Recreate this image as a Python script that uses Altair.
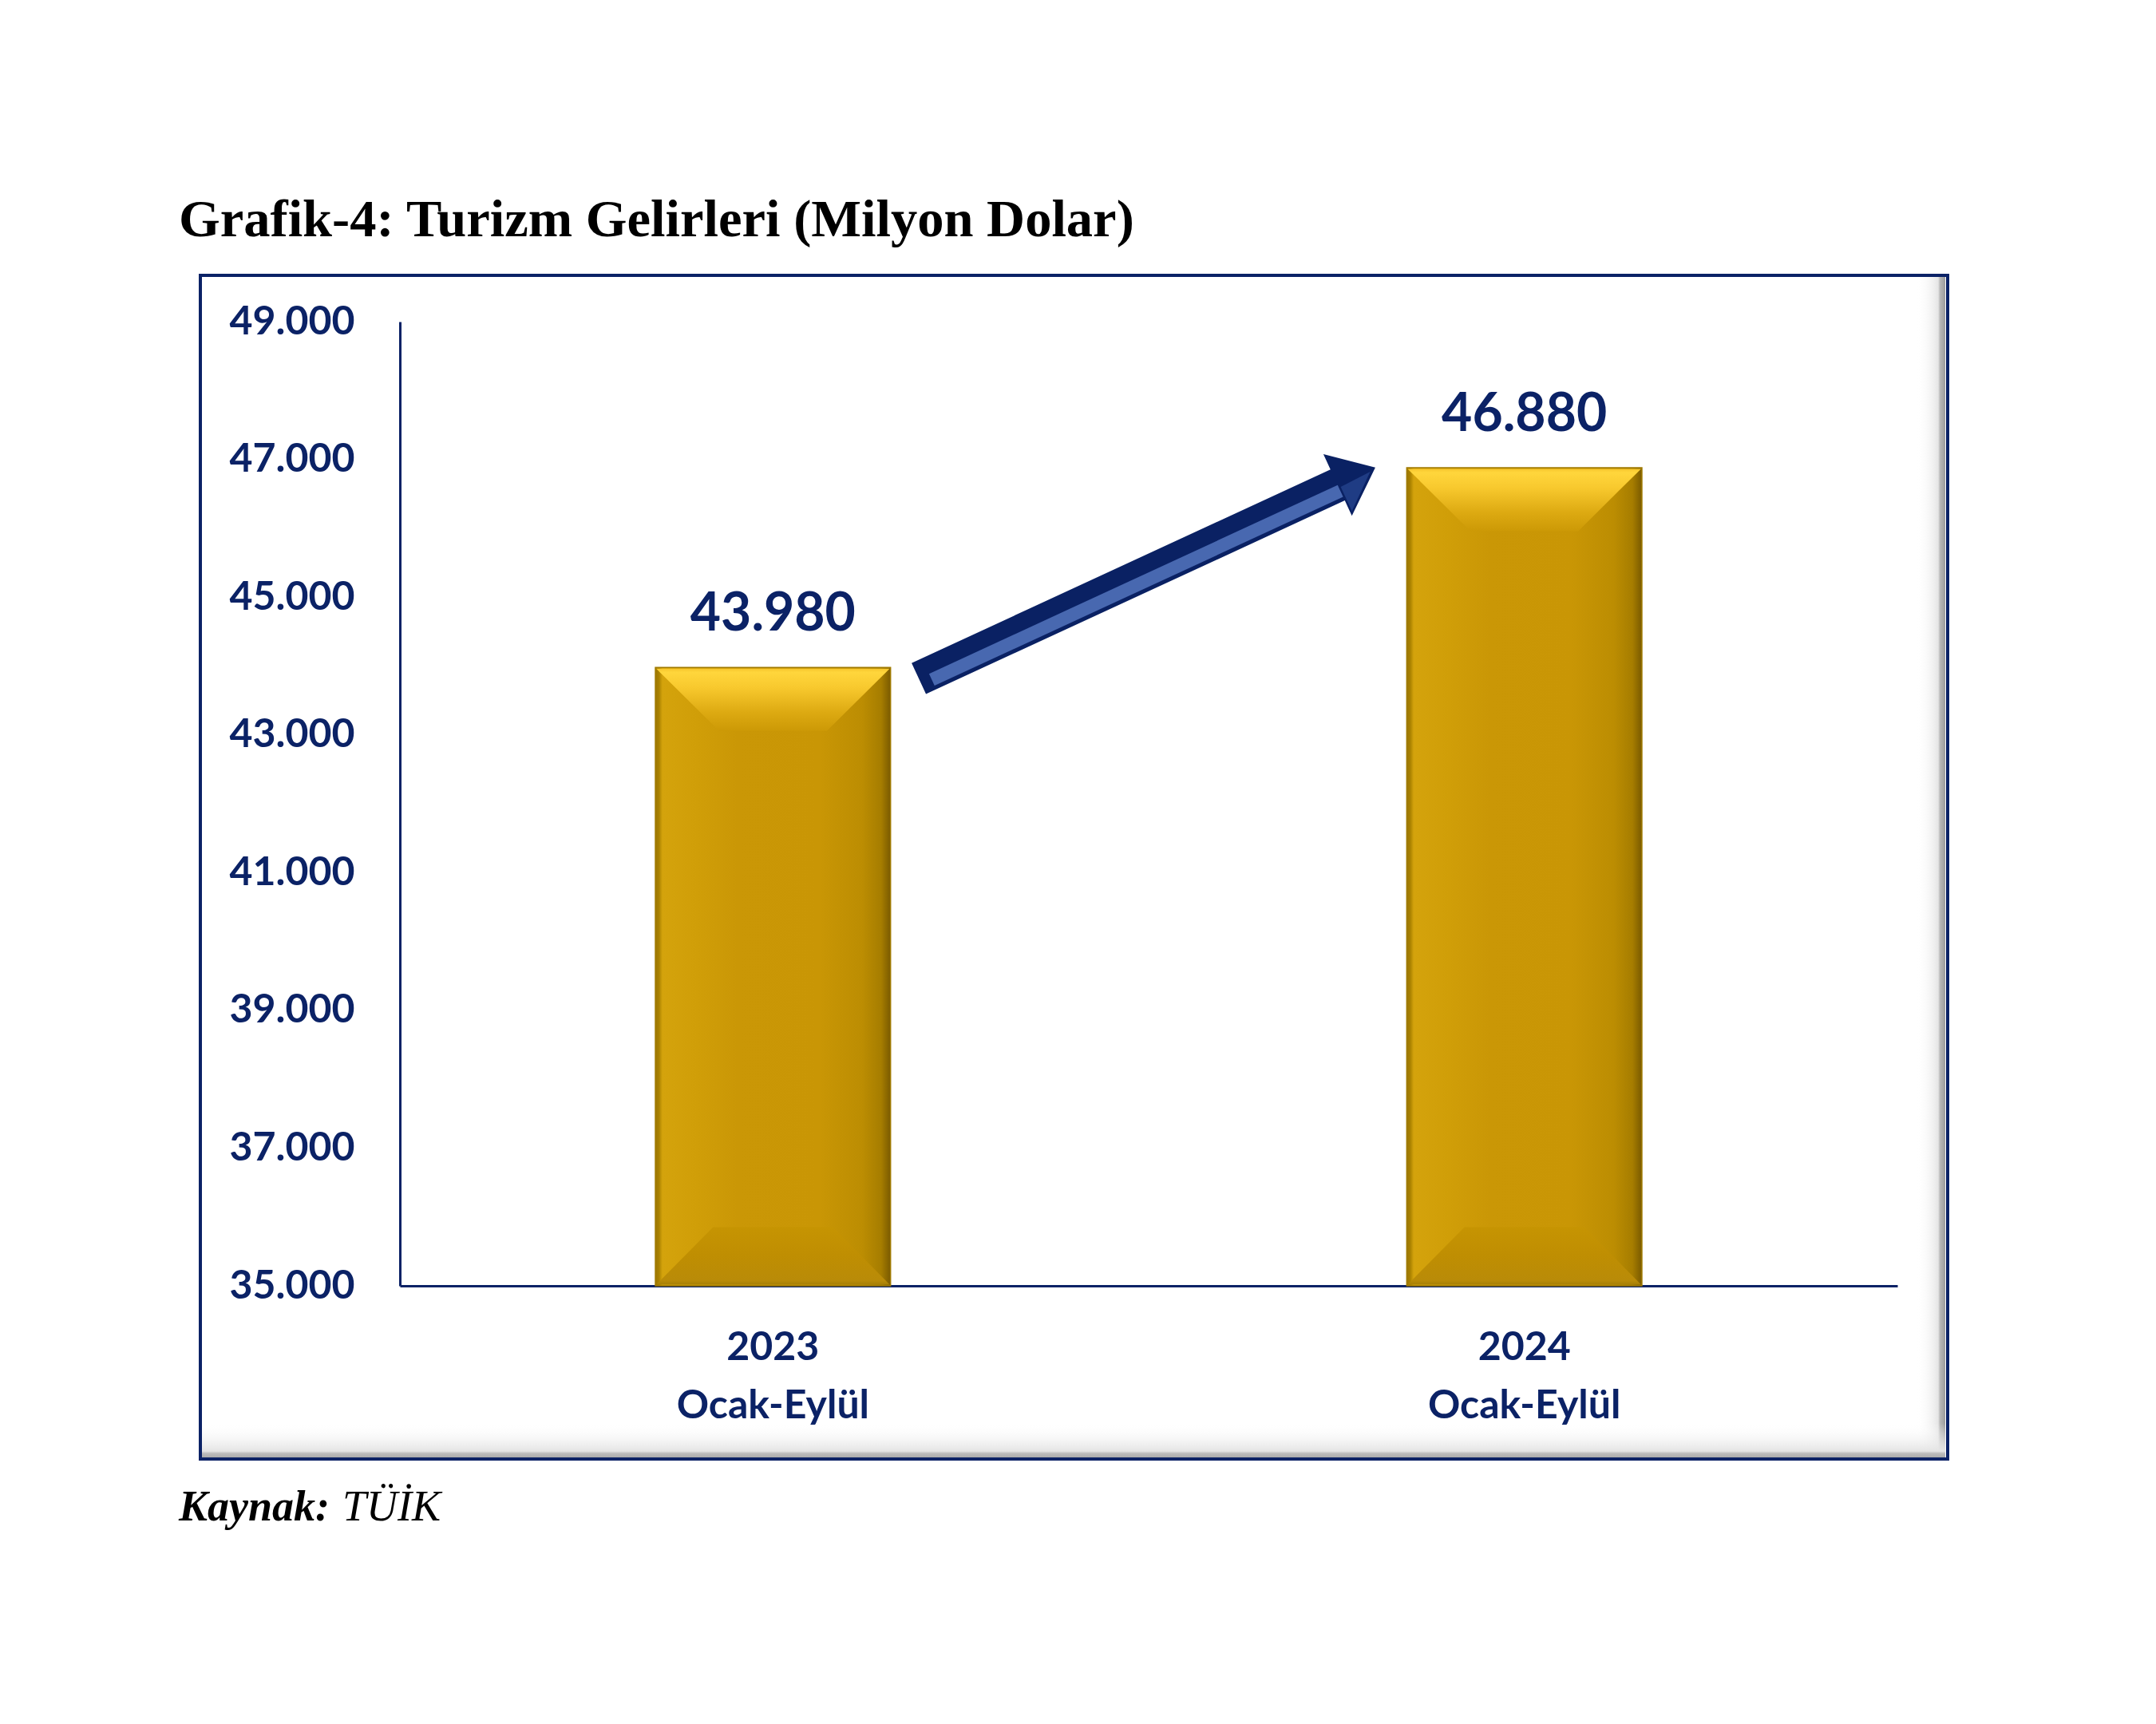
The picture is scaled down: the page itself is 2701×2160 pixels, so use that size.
import altair as alt
import pandas as pd

# ---------------- data ----------------
TITLE = "Grafik-4: Turizm Gelirleri (Milyon Dolar)"
SOURCE_BOLD = "Kaynak:"
SOURCE_REST = "TÜİK"
years = ["2023", "2024"]
periods = ["Ocak-Eylül", "Ocak-Eylül"]
values = [43980, 46880]
y_ticks = [35000, 37000, 39000, 41000, 43000, 45000, 47000, 49000]

# ---------------- style ----------------
NAVY = "#0B2266"
Y_MIN, Y_MAX = 35000, 49000
W, H = 1876, 1208

df = pd.DataFrame({
    "cat": [f"{y}|{p}" for y, p in zip(years, periods)],
    "value": values,
})

y_scale = alt.Scale(domain=[Y_MIN, Y_MAX], nice=False, zero=False)
x_scale = alt.Scale(paddingInner=0.687, paddingOuter=0.34)

x_axis = alt.Axis(
    labelExpr="split(datum.label, '|')", labelAngle=0, labelFont="Lato",
    labelFontWeight="bold", labelFontSize=50, labelColor=NAVY,
    labelPadding=52, labelLineHeight=73, labelBaseline="top", labelLimit=0,
    ticks=False, tickSize=0, domainColor=NAVY, domainWidth=3,
    grid=False, title=None,
)
y_axis = alt.Axis(
    values=y_ticks,
    labelExpr="replace(format(datum.value, ',.0f'), ',', '.')",
    labelFont="Lato", labelFontWeight="bold", labelFontSize=50,
    labelColor=NAVY, labelPadding=57, ticks=False, tickSize=0,
    domainColor=NAVY, domainWidth=3, grid=False, title=None,
)

X = alt.X("cat:N", sort=None, scale=x_scale, axis=x_axis)


def Yf(field):
    return alt.Y(field, scale=y_scale, axis=y_axis)


def grad_h(stops):
    return alt.Gradient(gradient="linear", x1=0, x2=1, y1=0, y2=0,
                        stops=[alt.GradientStop(color=c, offset=o) for o, c in stops])


def grad_v(stops):
    return alt.Gradient(gradient="linear", x1=0, x2=0, y1=0, y2=1,
                        stops=[alt.GradientStop(color=c, offset=o) for o, c in stops])


one = pd.DataFrame({"a": [0]})

# frame shadows + frame
shadow_r = alt.Chart(one).mark_rect(
    fill=grad_h([(0, "rgba(255,255,255,0)"), (0.75, "#e6e6e6"), (0.82, "#b8b8b8"), (1, "#9a9a9a")])
).encode(x=alt.value(1900), x2=alt.value(1936), y=alt.value(-56), y2=alt.value(1423))

shadow_b = alt.Chart(one).mark_rect(
    fill=grad_v([(0, "rgba(255,255,255,0)"), (0.8, "#e4e4e4"), (0.86, "#bdbdbd"), (1, "#a8a8a8")])
).encode(x=alt.value(-248), x2=alt.value(1936), y=alt.value(1380), y2=alt.value(1424))

frame = alt.Chart(one).mark_rect(
    fill="transparent", stroke=NAVY, strokeWidth=4
).encode(x=alt.value(-250), x2=alt.value(1939), y=alt.value(-58), y2=alt.value(1425))

# bars
bar_fill = grad_h([
    (0, "#9C7600"), (0.015, "#A98100"), (0.03, "#D4A30C"), (0.18, "#D09E08"),
    (0.35, "#CA9706"), (0.7, "#C99605"), (0.88, "#BC8D02"), (0.96, "#A67D00"),
    (1, "#7A5A00"),
])
bars = alt.Chart(df).transform_calculate(
    base=f"{Y_MIN}"
).mark_bar(fill=bar_fill, stroke="#A07A00", strokeWidth=1.5).encode(
    x=X, y=Yf("value:Q"), y2="base:Q"
)

# bevels (trapezoid symbols anchored at the bar top / bar bottom)
BEVEL_SIZE = 300 ** 2  # path unit = 150 px
TOP_TRAP = "M -0.975 0.01 L 0.975 0.01 L 0.45 0.53 L -0.45 0.53 Z"
BOT_TRAP = "M -0.975 -0.01 L 0.975 -0.01 L 0.5 -0.49 L -0.5 -0.49 Z"

top_bevel = alt.Chart(df).mark_point(
    shape=TOP_TRAP, filled=True, size=BEVEL_SIZE, strokeWidth=0, opacity=1,
    fill=grad_v([(0, "#F6C52C"), (0.06, "#FFD63C"), (0.3, "#F8C92E"),
                 (0.7, "#DDAA12"), (1, "#CC9906")]),
).encode(x=X, y=Yf("value:Q"))

bottom_bevel = alt.Chart(df).transform_calculate(
    b0=f"{Y_MIN}"
).mark_point(
    shape=BOT_TRAP, filled=True, size=BEVEL_SIZE, strokeWidth=0, opacity=1,
    fill=grad_v([(0, "#C69402"), (0.5, "#BF8E02"), (0.93, "#B98B08"), (1, "#A67F06")]),
).encode(x=X, y=Yf("b0:Q"))

labels = alt.Chart(df).transform_calculate(
    lab="replace(format(datum.value, ',.0f'), ',', '.')"
).mark_text(
    font="Lato", fontWeight="bold", fontSize=66, color=NAVY,
    baseline="alphabetic", dy=-46
).encode(x=X, y=Yf("value:Q"), text="lab:N")

# arrow annotation
ARROW_OUTLINE = "M -1 -0.068 L 0.835 -0.068 L 0.835 -0.135 L 1 0 L 0.835 0.135 L 0.835 0.068 L -1 0.068 Z"
ARROW_FACE = "M -0.955 0.0 L 0.835 0.0 L 0.835 0.052 L -0.955 0.052 Z"
ARROW_HEAD = "M 0.843 0.012 L 0.975 0.006 L 0.843 0.118 Z"
ARROW_SIZE = 630 ** 2
ARROW_ANGLE = 335.2


def arrow_part(path, color):
    return alt.Chart(one).mark_point(
        shape=path, filled=True, size=ARROW_SIZE, angle=ARROW_ANGLE,
        fill=color, strokeWidth=0, opacity=1
    ).encode(x=alt.value(936), y=alt.value(315))


arrow = arrow_part(ARROW_OUTLINE, "#0A2163")
arrow_face = arrow_part(ARROW_FACE, "#4868B0")
arrow_head = arrow_part(ARROW_HEAD, "#1F3C84")

# title and source
title = alt.Chart(pd.DataFrame({"t": [TITLE]})).mark_text(
    font="Liberation Serif", fontWeight="bold", fontSize=66.5, color="black",
    align="left", baseline="alphabetic"
).encode(x=alt.value(-277), y=alt.value(-107), text="t:N")

src1 = alt.Chart(pd.DataFrame({"t": [SOURCE_BOLD]})).mark_text(
    font="Liberation Serif", fontWeight="bold", fontStyle="italic", fontSize=54,
    color="black", align="left", baseline="alphabetic"
).encode(x=alt.value(-277), y=alt.value(1502), text="t:N")

src2 = alt.Chart(pd.DataFrame({"t": [SOURCE_REST]})).mark_text(
    font="Liberation Serif", fontStyle="italic", fontSize=54,
    color="black", align="left", baseline="alphabetic"
).encode(x=alt.value(-72), y=alt.value(1502), text="t:N")

chart = alt.layer(
    shadow_r, shadow_b, frame, bars, bottom_bevel, top_bevel,
    labels, arrow, arrow_face, arrow_head, title, src1, src2
).properties(
    width=W, height=H,
    padding={"left": 493, "top": 395, "right": 300, "bottom": 520},
    autosize=alt.AutoSizeParams(type="none"),
    background="white",
).configure_view(strokeWidth=0)

chart.save("out.html", embed_options={"renderer": "svg", "actions": False})
